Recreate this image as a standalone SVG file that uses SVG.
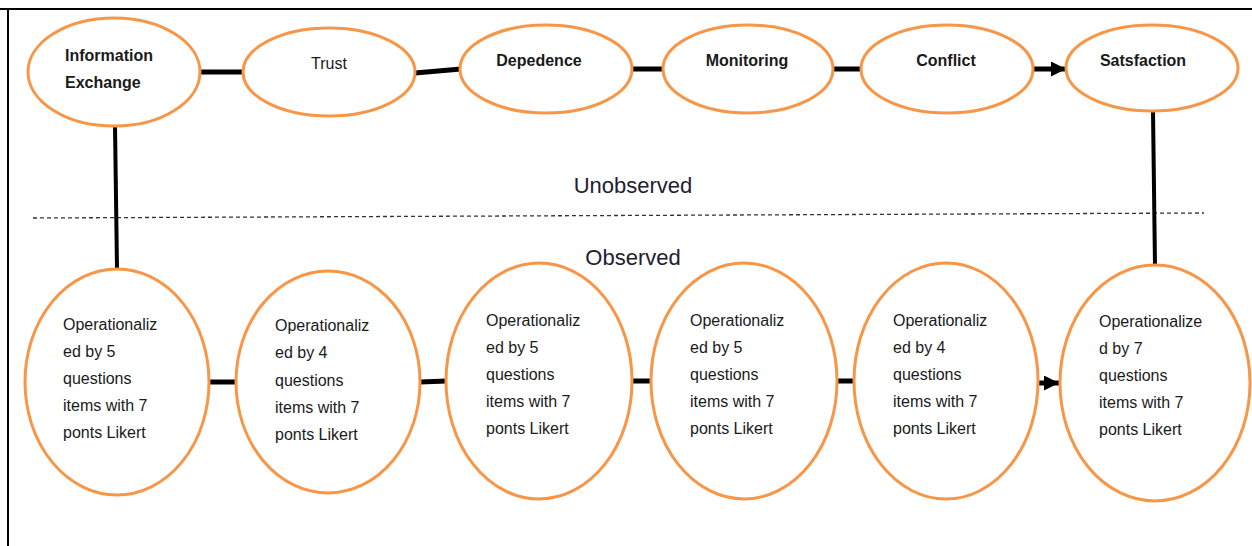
<svg xmlns="http://www.w3.org/2000/svg" width="1252" height="546" viewBox="0 0 1252 546">
  <style>
    .node { fill: #ffffff; stroke: #F79646; stroke-width: 3; }
    .link { stroke: #000000; stroke-width: 5; fill: none; }
    .vlink { stroke: #000000; stroke-width: 4; fill: none; }
    .title { font-family: "Liberation Sans", Arial, sans-serif; font-size: 16px; font-weight: bold; fill: #1a1a1a; text-anchor: middle; }
    .title-left { font-family: "Liberation Sans", Arial, sans-serif; font-size: 16px; font-weight: bold; fill: #1a1a1a; }
    .plain { font-family: "Liberation Sans", Arial, sans-serif; font-size: 16px; fill: #1a1a1a; text-anchor: middle; }
    .item { font-family: "Liberation Sans", Arial, sans-serif; font-size: 16px; fill: #1a1a1a; }
    .zone { font-family: "Liberation Sans", Arial, sans-serif; font-size: 22px; fill: #1f2030; text-anchor: middle; }
  </style>
  <defs>
    <marker id="arrow" viewBox="0 0 10 10" refX="10" refY="5" markerWidth="3" markerHeight="3" orient="auto" markerUnits="strokeWidth">
      <path d="M0,0 L10,5 L0,10 Z" fill="#000000"/>
    </marker>
  </defs>

  <rect width="1252" height="546" fill="#ffffff"/>

  <!-- frame -->
  <g id="frame">
    <line x1="0" y1="9" x2="1252" y2="9" stroke="#000" stroke-width="2"/>
    <line x1="8" y1="9" x2="8" y2="546" stroke="#000" stroke-width="2"/>
  </g>

  <!-- divider between latent and measured levels -->
  <g id="divider">
    <line x1="33" y1="218" x2="1204" y2="213" stroke="#333" stroke-width="1.3" stroke-dasharray="4,3"/>
    <text class="zone" x="633" y="193">Unobserved</text>
    <text class="zone" x="633" y="265">Observed</text>
  </g>

  <!-- connectors -->
  <g id="connectors">
    <line class="link" x1="200" y1="72" x2="244" y2="72"/>
    <line class="link" x1="415" y1="73" x2="461" y2="69"/>
    <line class="link" x1="633" y1="69" x2="663" y2="69"/>
    <line class="link" x1="833" y1="69" x2="862" y2="69"/>
    <line class="link" x1="1033" y1="69" x2="1066" y2="69" marker-end="url(#arrow)"/>
    <line class="vlink" x1="115" y1="126" x2="117" y2="268"/>
    <line class="vlink" x1="1153" y1="111" x2="1155" y2="266"/>
    <line class="link" x1="209" y1="382" x2="237" y2="382"/>
    <line class="link" x1="420" y1="382" x2="447" y2="381"/>
    <line class="link" x1="632" y1="381" x2="652" y2="381"/>
    <line class="link" x1="837" y1="381" x2="855" y2="381"/>
    <line class="link" x1="1038" y1="383" x2="1059" y2="383" marker-end="url(#arrow)"/>
  </g>

  <!-- latent constructs -->
  <g id="information-exchange">
    <ellipse class="node" cx="114" cy="72" rx="86" ry="54"/>
    <text class="title-left" x="65" y="61">Information</text>
    <text class="title-left" x="65" y="88">Exchange</text>
  </g>
  <g id="trust">
    <ellipse class="node" cx="329" cy="72" rx="86" ry="44"/>
    <text class="plain" x="329" y="69">Trust</text>
  </g>
  <g id="dependence">
    <ellipse class="node" cx="546" cy="69" rx="86" ry="44"/>
    <text class="title" x="539" y="66">Depedence</text>
  </g>
  <g id="monitoring">
    <ellipse class="node" cx="748" cy="69" rx="85" ry="44"/>
    <text class="title" x="747" y="66">Monitoring</text>
  </g>
  <g id="conflict">
    <ellipse class="node" cx="947" cy="69" rx="86" ry="44"/>
    <text class="title" x="946" y="66">Conflict</text>
  </g>
  <g id="satisfaction">
    <ellipse class="node" cx="1152" cy="68" rx="86" ry="43"/>
    <text class="title" x="1143" y="66">Satsfaction</text>
  </g>

  <!-- measured indicators -->
  <g id="ie-items">
    <ellipse class="node" cx="117" cy="382" rx="92" ry="113"/>
    <text class="item" x="63" y="330">
      <tspan x="63" y="330">Operationaliz</tspan>
      <tspan x="63" y="357">ed by 5</tspan>
      <tspan x="63" y="384">questions</tspan>
      <tspan x="63" y="411">items with 7</tspan>
      <tspan x="63" y="438">ponts Likert</tspan>
    </text>
  </g>
  <g id="trust-items">
    <ellipse class="node" cx="328" cy="382" rx="92" ry="111"/>
    <text class="item" x="275" y="331">
      <tspan x="275" y="331">Operationaliz</tspan>
      <tspan x="275" y="358">ed by 4</tspan>
      <tspan x="275" y="386">questions</tspan>
      <tspan x="275" y="413">items with 7</tspan>
      <tspan x="275" y="440">ponts Likert</tspan>
    </text>
  </g>
  <g id="dependence-items">
    <ellipse class="node" cx="539" cy="381" rx="93" ry="118"/>
    <text class="item" x="486" y="326">
      <tspan x="486" y="326">Operationaliz</tspan>
      <tspan x="486" y="353">ed by 5</tspan>
      <tspan x="486" y="380">questions</tspan>
      <tspan x="486" y="407">items with 7</tspan>
      <tspan x="486" y="434">ponts Likert</tspan>
    </text>
  </g>
  <g id="monitoring-items">
    <ellipse class="node" cx="744" cy="381" rx="93" ry="118"/>
    <text class="item" x="690" y="326">
      <tspan x="690" y="326">Operationaliz</tspan>
      <tspan x="690" y="353">ed by 5</tspan>
      <tspan x="690" y="380">questions</tspan>
      <tspan x="690" y="407">items with 7</tspan>
      <tspan x="690" y="434">ponts Likert</tspan>
    </text>
  </g>
  <g id="conflict-items">
    <ellipse class="node" cx="946" cy="381" rx="92" ry="118"/>
    <text class="item" x="893" y="326">
      <tspan x="893" y="326">Operationaliz</tspan>
      <tspan x="893" y="353">ed by 4</tspan>
      <tspan x="893" y="380">questions</tspan>
      <tspan x="893" y="407">items with 7</tspan>
      <tspan x="893" y="434">ponts Likert</tspan>
    </text>
  </g>
  <g id="satisfaction-items">
    <ellipse class="node" cx="1155" cy="383" rx="95" ry="118"/>
    <text class="item" x="1099" y="327">
      <tspan x="1099" y="327">Operationalize</tspan>
      <tspan x="1099" y="354">d by 7</tspan>
      <tspan x="1099" y="381">questions</tspan>
      <tspan x="1099" y="408">items with 7</tspan>
      <tspan x="1099" y="435">ponts Likert</tspan>
    </text>
  </g>
</svg>
